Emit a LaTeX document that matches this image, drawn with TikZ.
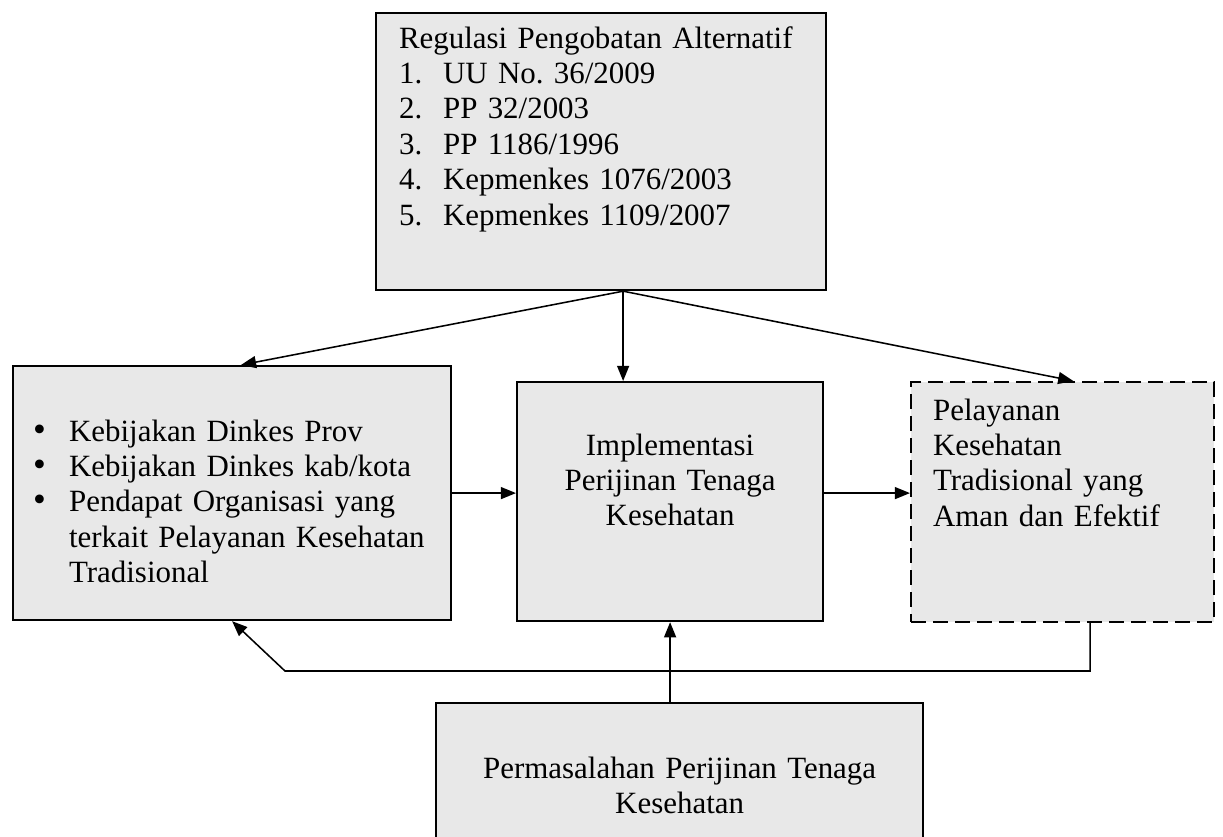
\documentclass[tikz,border=0pt]{standalone}
\usepackage{fontspec}
\setmainfont{Liberation Serif}
\usetikzlibrary{positioning}
\usetikzlibrary{calc}
\usetikzlibrary{arrows.meta}

\begin{document}
\begin{tikzpicture}[->,>={Triangle[length=0.38cm,width=0.3cm]},line width=1.1pt,
			x=0.025cm,y=-0.025cm]
			\tikzstyle{every node}=[font=\fontsize{22}{25.2}\selectfont]
			\tikzstyle{box}=[draw,line width=1.5pt,fill=black!9,anchor=north west,inner ysep=0pt]
			\tikzstyle{dashbox}=[box,dash pattern=on 0.38cm off 0.17cm]
			
			\clip[-] (0,0) rectangle (1223,836);
			
			\node[box,inner xsep=0.575cm,text width=10.1cm,text height=0.875cm,text depth=6.05cm,align=left] (reg) at (375,12)
			{Regulasi Pengobatan Alternatif\\
				\makebox[1.1cm][l]{1.}UU No.\ 36/2009\\
				\makebox[1.1cm][l]{2.}PP 32/2003\\
				\makebox[1.1cm][l]{3.}PP 1186/1996\\
				\makebox[1.1cm][l]{4.}Kepmenkes 1076/2003\\
				\makebox[1.1cm][l]{5.}Kepmenkes 1109/2007};
			\node[box,inner xsep=0.5cm,text width=9.95cm,text height=1.875cm,text depth=4.475cm,align=left] (kebij) at (12,365)
			{\makebox[0.9cm][l]{\smash{\fontsize{26}{26}\selectfont\textbullet}}Kebijakan Dinkes Prov\\
				\makebox[0.9cm][l]{\smash{\fontsize{26}{26}\selectfont\textbullet}}Kebijakan Dinkes kab/kota\\
				\makebox[0.9cm][l]{\smash{\fontsize{26}{26}\selectfont\textbullet}}Pendapat Organisasi yang\\
				\makebox[0.9cm][l]{}terkait Pelayanan Kesehatan\\
				\makebox[0.9cm][l]{}Tradisional};
			\node[box,inner xsep=0.25cm,text width=7.15cm,text height=1.825cm,text depth=4.15cm,align=center] (impl) at (516,381)
			{Implementasi\\ Perijinan Tenaga\\ Kesehatan};
			\node[dashbox,inner xsep=0.55cm,text width=6.475cm,text height=0.95cm,text depth=5.05cm,align=left] (pelay) at (910,381)
			{Pelayanan\\ Kesehatan\\ Tradisional yang\\ Aman dan Efektif};
			\node[box,inner xsep=0.25cm,text width=11.675cm,text height=1.875cm,text depth=2cm,align=center] (perm) at (435,702)
			{Permasalahan Perijinan Tenaga\\ Kesehatan};
			
			\coordinate (fork) at ([xshift=0.55cm]reg.south);
			\coordinate (bend) at (285,671);
			
			\path (fork) edge ([xshift=0.22cm]kebij.north)
			(fork) edge (fork |- impl.north)
			(fork) edge ([xshift=0.27cm]pelay.north)
			(kebij.east) edge (kebij.east -| impl.west)
			(impl.east |- kebij.east) edge (pelay.west |- kebij.east)
			(perm.north -| impl.south) edge (impl.south);
			
			\draw ([xshift=0.69cm]pelay.south) |- (bend) -- (kebij.south);
\end{tikzpicture}
\end{document}
